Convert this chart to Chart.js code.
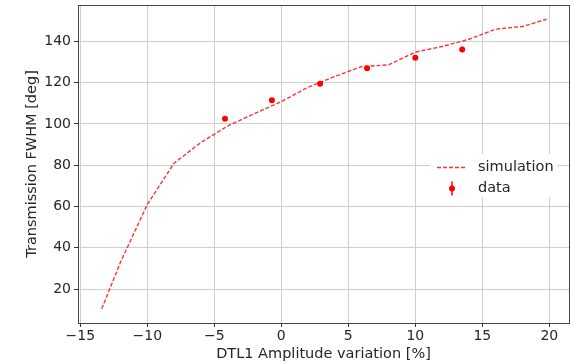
<!DOCTYPE html>
<html>
<head>
<meta charset="utf-8">
<script src="https://cdn.jsdelivr.net/npm/chart.js@4"></script>
<style>
html,body{margin:0;padding:0;background:#fff;}
#wrap{width:575px;height:364px;position:relative;}
</style>
</head>
<body>
<div id="wrap"><canvas id="c" width="575" height="364"></canvas></div>
<script>
// Simulation curve (dashed)
const simX = [-13.4, -12, -10, -8, -6, -4, -2, 0, 2, 4, 6, 8, 10, 12, 14, 16, 18, 19.8];
const simY = [10.5, 33, 61, 81, 91, 99, 105, 110.8, 117.8, 123, 127.8, 128.6, 134.8, 137.5, 141, 145.9, 147.2, 150.7];
// Measured data
const dataX = [-4.2, -0.7, 2.9, 6.4, 10.0, 13.5];
const dataY = [102.5, 111.5, 119.5, 127, 132, 136];
// Tick labels
const xTicks = [-15, -10, -5, 0, 5, 10, 15, 20];
const yTicks = [20, 40, 60, 80, 100, 120, 140];
const seriesLabels = ["simulation", "data"];

const FONT = "'DejaVu Sans', sans-serif";
const TXT = '#262626';
const fmt = v => (v < 0 ? '\u2212' + Math.abs(v) : String(v));

const legendPlugin = {
  id: 'mplLegend',
  afterDraw(chart) {
    const ctx = chart.ctx;
    const x0 = 436, y1 = 167.5, y2 = 188.5;
    ctx.save();
    ctx.fillStyle = '#fff';
    ctx.fillRect(430, 154, 127, 43);
    // simulation
    ctx.strokeStyle = 'rgba(255,0,0,0.8)';
    ctx.lineWidth = 1.3;
    ctx.setLineDash([4, 2]);
    ctx.beginPath(); ctx.moveTo(x0 + 1, y1); ctx.lineTo(x0 + 29, y1); ctx.stroke();
    ctx.setLineDash([]);
    // data
    ctx.strokeStyle = 'red'; ctx.lineWidth = 1.5;
    ctx.beginPath(); ctx.moveTo(x0 + 16, y2 - 7); ctx.lineTo(x0 + 16, y2 + 7); ctx.stroke();
    ctx.fillStyle = 'red';
    ctx.beginPath(); ctx.arc(x0 + 16, y2, 3, 0, Math.PI * 2); ctx.fill();
    ctx.fillStyle = TXT;
    ctx.font = '14.5px ' + FONT;
    ctx.textBaseline = 'middle';
    ctx.textAlign = 'left';
    ctx.fillText(seriesLabels[0], 478, y1);
    ctx.fillText(seriesLabels[1], 478, y2);
    // frame (spines)
    const a = chart.chartArea;
    ctx.strokeStyle = '#444';
    ctx.lineWidth = 1;
    ctx.strokeRect(Math.round(a.left) + 0.5, Math.round(a.top) + 0.5, Math.round(a.right - a.left), Math.round(a.bottom - a.top));
    ctx.restore();
  }
};

new Chart(document.getElementById('c'), {
  type: 'scatter',
  data: {
    datasets: [
      {
        label: seriesLabels[0],
        type: 'line',
        data: simX.map((x, i) => ({x, y: simY[i]})),
        borderColor: 'rgba(255,0,0,0.8)',
        borderWidth: 1.4,
        borderDash: [4, 2],
        pointRadius: 0,
        fill: false,
        tension: 0,
        order: 2
      },
      {
        label: seriesLabels[1],
        data: dataX.map((x, i) => ({x, y: dataY[i]})),
        backgroundColor: 'red',
        borderColor: 'red',
        pointRadius: 3,
        pointBorderWidth: 0,
        order: 1
      }
    ]
  },
  options: {
    responsive: false,
    animation: false,
    layout: {padding: {left: 0, right: 6, top: 5, bottom: 0}},
    plugins: {legend: {display: false}, tooltip: {enabled: false}},
    scales: {
      x: {
        type: 'linear',
        min: -15.17, max: 21.47,
        afterBuildTicks: s => { s.ticks = xTicks.map(v => ({value: v})); },
        afterFit: s => { s.height = 41; s.paddingLeft = 0; s.paddingRight = 0; },
        grid: {color: '#cfcfcf', lineWidth: 1, tickColor: '#333', tickLength: 4, drawTicks: true},
        border: {display: false},
        ticks: {font: {family: FONT, size: 14}, color: TXT, padding: 1, maxRotation: 0, callback: v => fmt(v)},
        title: {display: true, text: 'DTL1 Amplitude variation [%]', font: {family: FONT, size: 14.5}, color: TXT, padding: {top: 0, bottom: 1}}
      },
      y: {
        type: 'linear',
        min: 3.6, max: 157.6,
        afterBuildTicks: s => { s.ticks = yTicks.map(v => ({value: v})); },
        afterFit: s => { s.width = 78; s.paddingTop = 0; s.paddingBottom = 0; },
        grid: {color: '#cfcfcf', lineWidth: 1, tickColor: '#333', tickLength: 4, drawTicks: true},
        border: {display: false},
        ticks: {font: {family: FONT, size: 14}, color: TXT, padding: 3, callback: v => fmt(v)},
        title: {display: true, text: 'Transmission FWHM [deg]', font: {family: FONT, size: 14.5}, color: TXT, padding: {top: 24, bottom: 4}}
      }
    }
  },
  plugins: [legendPlugin]
});
</script>
</body>
</html>
